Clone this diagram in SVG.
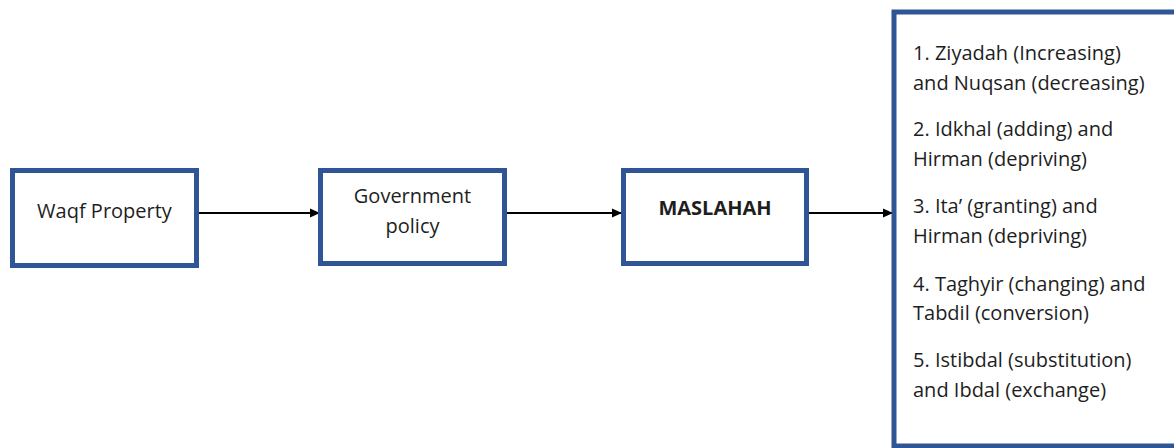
<svg xmlns="http://www.w3.org/2000/svg" width="1174" height="448" viewBox="0 0 1174 448">
<style>
.box{fill:#fff;stroke:#2F5597;stroke-width:5}
.t{font-family:"Open Sans","Liberation Sans",sans-serif;font-size:20px;fill:#1e1e1e}
.c{text-anchor:middle}
.b{font-weight:bold}
.conn{stroke:#000;stroke-width:2;fill:none;marker-end:url(#ah)}
</style>
<defs>
<marker id="ah" markerWidth="10" markerHeight="10" refX="9" refY="5" orient="auto" markerUnits="userSpaceOnUse">
<path d="M0,0.5 L10,5 L0,9.5 Z" fill="#000"/>
</marker>
</defs>
<rect width="1174" height="448" fill="#fff"/>
<g id="connectors">
<line class="conn" x1="199" y1="213" x2="319" y2="213"/>
<line class="conn" x1="507" y1="213" x2="621" y2="213"/>
<line class="conn" x1="809" y1="213" x2="892" y2="213"/>
</g>
<g id="waqf">
<rect class="box" x="12.5" y="170.5" width="184" height="95"/>
<text class="t c" x="104.5" y="218">Waqf Property</text>
</g>
<g id="policy">
<rect class="box" x="320.5" y="170.5" width="184" height="93"/>
<text class="t c" x="412.5" y="203">Government</text>
<text class="t c" x="412.5" y="233">policy</text>
</g>
<g id="maslahah">
<rect class="box" x="623.5" y="170.5" width="183" height="93"/>
<text class="t c b" x="715" y="215">MASLAHAH</text>
</g>
<g id="outcomes">
<rect class="box" x="894" y="12" width="300" height="434"/>
<text class="t" x="913" y="60">1. Ziyadah (Increasing)</text>
<text class="t" x="913" y="90">and Nuqsan (decreasing)</text>
<text class="t" x="913" y="136">2. Idkhal (adding) and</text>
<text class="t" x="913" y="166">Hirman (depriving)</text>
<text class="t" x="913" y="213">3. Ita’ (granting) and</text>
<text class="t" x="913" y="243">Hirman (depriving)</text>
<text class="t" x="913" y="291">4. Taghyir (changing) and</text>
<text class="t" x="913" y="320">Tabdil (conversion)</text>
<text class="t" x="913" y="367">5. Istibdal (substitution)</text>
<text class="t" x="913" y="397">and Ibdal (exchange)</text>
</g>
</svg>
